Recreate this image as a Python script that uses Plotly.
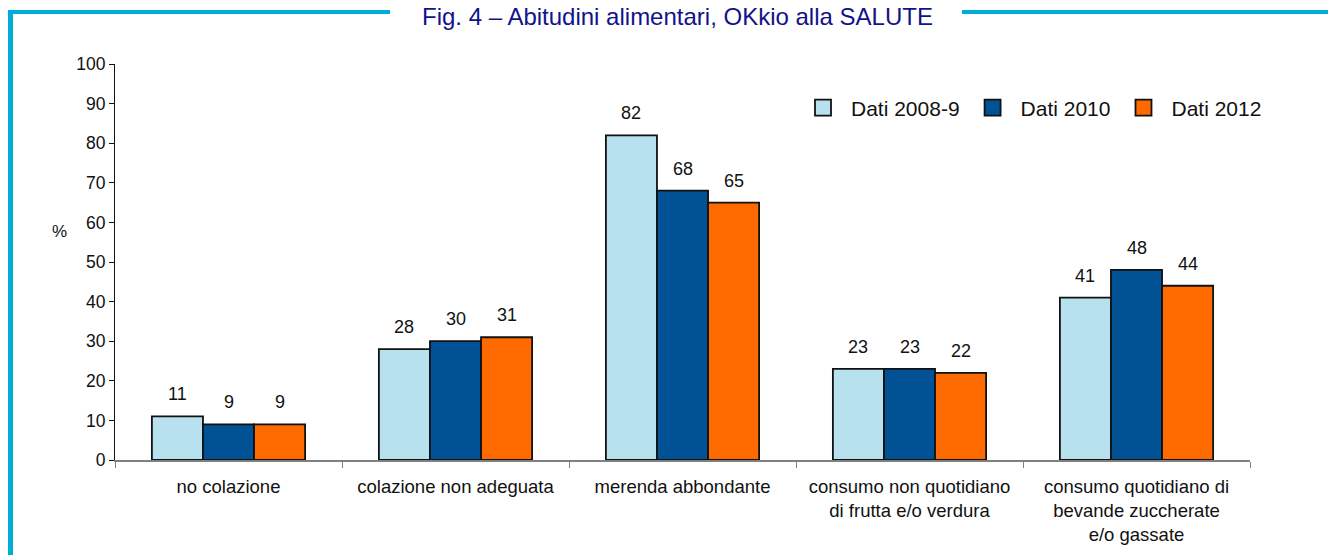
import plotly.graph_objects as go

categories = ["no colazione", "colazione non adeguata", "merenda abbondante",
              "consumo non quotidiano<br>di frutta e/o verdura",
              "consumo quotidiano di<br>bevande zuccherate<br>e/o gassate"]
series_names = ["Dati 2008-9", "Dati 2010", "Dati 2012"]
values_2008 = [11, 28, 82, 23, 41]
values_2010 = [9, 30, 68, 23, 48]
values_2012 = [9, 31, 65, 22, 44]
y_ticks = [0, 10, 20, 30, 40, 50, 60, 70, 80, 90, 100]

colors = ["#b8e1ef", "#005295", "#ff6a00"]
FONT = "Liberation Sans, Arial, sans-serif"

# page pixel -> paper coords (plot area on page 115..1250 x 64..460)
def px(x): return (x - 115) / 1135.0
def py(y): return (460 - y) / 396.0

fig = go.Figure()
all_vals = [values_2008, values_2010, values_2012]
idx = list(range(len(categories)))
for j, (name, vals) in enumerate(zip(series_names, all_vals)):
    fig.add_trace(go.Bar(x=idx, y=vals, name=name, marker=dict(color=colors[j], line=dict(color="#111111", width=1.8)),
                         showlegend=False))
    # legend proxy, bigger square swatch
    fig.add_trace(go.Scatter(x=[None], y=[None], mode="markers", name=name,
                             marker=dict(symbol="square", size=20, color=colors[j], line=dict(color="#111111", width=1.8))))

bw = 0.225  # width of one bar in category units
for j, vals in enumerate(all_vals):
    for i, v in enumerate(vals):
        fig.add_annotation(x=i + (j - 1) * bw, y=v, text=str(v), showarrow=False, yshift=22,
                           font=dict(size=18, color="#111111", family=FONT))

# page body has an 8px margin, so figure coords = page coords - 8
fig.update_layout(
    width=1336, height=555, margin=dict(l=107, r=94, t=56, b=103),
    plot_bgcolor="white", paper_bgcolor="white",
    barmode="group", bargap=0.325, bargroupgap=0,
    font=dict(family=FONT, size=17, color="#111111"),
    legend=dict(orientation="h", x=px(795), y=py(108), xanchor="left", yanchor="middle",
                font=dict(size=21, family=FONT), itemwidth=46, traceorder="normal"),
)
fig.update_xaxes(type="category", range=[-0.5, 4.5], tickmode="array", tickvals=idx, ticktext=categories,
                 showline=True, linecolor="#808080", linewidth=2, ticks="outside", ticklen=6,
                 tickcolor="#808080", tickson="boundaries", showgrid=False, zeroline=False,
                 ticklabelstandoff=9, tickfont=dict(size=18.5, family=FONT))
fig.update_yaxes(range=[0, 100], tickvals=y_ticks, showline=True, linecolor="#111111", linewidth=1,
                 ticks="outside", ticklen=5, tickcolor="#111111", showgrid=False, zeroline=False,
                 tickfont=dict(size=17.5, family=FONT))

fig.add_annotation(xref="paper", yref="paper", x=px(50), y=py(232), text="%", showarrow=False,
                   yanchor="middle", font=dict(size=17, family=FONT))
fig.add_annotation(xref="paper", yref="paper", x=px(677), y=py(17), yanchor="middle",
                   text="Fig. 4 – Abitudini alimentari, OKkio alla SALUTE",
                   showarrow=False, font=dict(size=24, color="#12128a", family=FONT))

cyan = "#00acd8"
fig.add_shape(type="line", xref="paper", yref="paper", x0=px(10.5), x1=px(10.5), y0=py(10), y1=py(570),
              line=dict(color=cyan, width=5))
fig.add_shape(type="line", xref="paper", yref="paper", x0=px(8), x1=px(390), y0=py(12), y1=py(12),
              line=dict(color=cyan, width=4))
fig.add_shape(type="line", xref="paper", yref="paper", x0=px(962), x1=px(1350), y0=py(12), y1=py(12),
              line=dict(color=cyan, width=4))

fig.write_html("out.html")
